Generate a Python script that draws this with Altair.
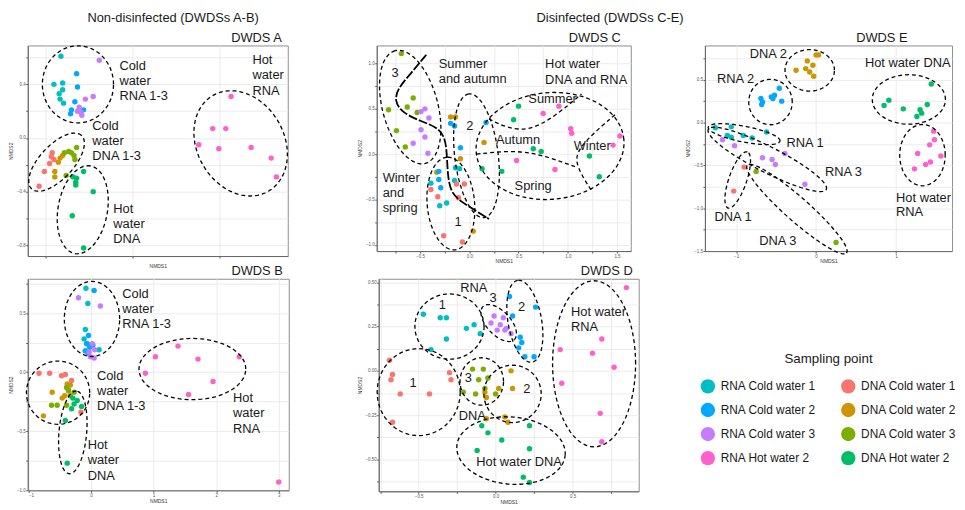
import altair as alt
import pandas as pd
import numpy as np

FONT = "Liberation Sans"

CATS = ["RNA Cold water 1", "RNA Cold water 2", "RNA Cold water 3", "RNA Hot water 2",
        "DNA Cold water 1", "DNA Cold water 2", "DNA Cold water 3", "DNA Hot water 2"]
COLORS = ["#00BFC4", "#00A9FF", "#C77CFF", "#FF61CC", "#F8766D", "#CD9600", "#7CAE00", "#00BE67"]
CODE = {"R1": CATS[0], "R2": CATS[1], "R3": CATS[2], "RH": CATS[3],
        "D1": CATS[4], "D2": CATS[5], "D3": CATS[6], "DH": CATS[7]}

# ---------------- DWDS A ----------------
A_grp = ["R1"] * 7 + ["R2"] * 6 + ["R3"] * 7 + ["RH"] * 8 + ["D1"] * 6 + ["D2"] * 5 + ["D3"] * 7 + ["DH"] * 8
A_x = [-0.32, -0.40, -0.30, -0.30, -0.34, -0.33, -0.29,
       -0.14, -0.13, -0.16, -0.20, -0.21, -0.06,
       0.12, 0.05, -0.04, -0.11, -0.13, -0.09, -0.08,
       1.63, 1.42, 1.57, 1.26, 1.49, 1.86, 2.09, 2.15,
       -0.57, -0.51, -0.45, -0.43, -0.42, -0.40,
       -0.39, -0.39, -0.35, -0.33, -0.30,
       -0.28, -0.23, -0.20, -0.17, -0.14, -0.16, -0.26,
       -0.18, -0.14, -0.15, -0.15, -0.06, 0.05, -0.19, -0.06]
A_y = [0.61, 0.40, 0.41, 0.36, 0.33, 0.29, 0.26,
       0.48, 0.38, 0.27, 0.21, 0.18, 0.21,
       0.58, 0.31, 0.29, 0.23, 0.20, 0.19, 0.17,
       0.31, 0.07, 0.07, -0.05, -0.08, -0.07, -0.15, -0.29,
       -0.36, -0.25, -0.19, -0.14, -0.11, -0.16,
       -0.25, -0.29, -0.18, -0.15, -0.13,
       -0.11, -0.10, -0.11, -0.13, -0.07, -0.16, -0.28,
       -0.29, -0.30, -0.33, -0.35, -0.25, -0.40, -0.58, -0.82]
A_ell = [(-0.125, 0.40, 36, 39, 0), (-0.37, -0.18, 37, 17, 47),
         (-0.07, -0.535, 45, 25, 80), (1.74, -0.04, 56, 44, -60)]
A_txt = ["Cold", "water", "RNA 1-3", "Cold", "water", "DNA 1-3", "Hot", "water", "DNA", "Hot", "water", "RNA"]
A_tx = [0.35, 0.35, 0.35, 0.04, 0.04, 0.04, 0.28, 0.28, 0.28, 1.875, 1.875, 1.875]
A_ty = [0.54, 0.425, 0.31, 0.086, -0.025, -0.135, -0.53, -0.645, -0.75, 0.58, 0.466, 0.35]

# ---------------- DWDS B ----------------
B_grp = ["R1"] * 7 + ["R2"] * 7 + ["R3"] * 7 + ["RH"] * 8 + ["D1"] * 6 + ["D2"] * 7 + ["D3"] * 7 + ["DH"] * 7
B_x = [-0.08, -0.05, -0.09, -0.11, -0.06, 0.13, -0.09,
       0.05, -0.04, -0.07, -0.02, 0.03, -0.09, -0.04,
       -0.20, 0.15, 0.02, 0.06, -0.03, -0.01, 0.05,
       0.87, 1.03, 1.39, 1.71, 2.37, 1.95, 1.56, 3.00,
       -0.83, -0.66, -0.47, -0.41, -0.31, -0.16,
       -0.62, -0.76, -0.46, -0.38, -0.33, -0.42, -0.36,
       -0.63, -0.54, -0.39, -0.36, -0.27, -0.39, -0.33,
       -0.29, -0.22, -0.27, -0.31, -0.15, -0.41, -0.38]
B_y = [0.71, 0.58, 0.36, 0.28, 0.24, 0.19, 0.18,
       0.69, 0.31, 0.24, 0.21, 0.23, 0.18, 0.16,
       0.63, 0.56, 0.24, 0.19, 0.17, 0.13, 0.12,
       -0.01, 0.13, 0.22, 0.11, 0.13, -0.08, -0.19, -0.93,
       -0.01, -0.01, -0.03, -0.02, -0.07, -0.34,
       -0.17, -0.37, -0.22, -0.10, -0.11, -0.20, -0.16,
       -0.28, -0.28, -0.13, -0.15, -0.17, -0.28, -0.20,
       -0.22, -0.24, -0.27, -0.31, -0.29, -0.41, -0.77]
B_ell = [(0.016, 0.45, 28, 38, 0), (-0.526, -0.174, 32, 32, 0),
         (-0.29, -0.51, 42, 14, 85), (1.62, 0.026, 54, 31, 0)]
B_txt = ["Cold", "water", "RNA 1-3", "Cold", "water", "DNA 1-3", "Hot", "water", "DNA", "Hot", "water", "RNA"]
B_tx = [0.50, 0.50, 0.50, 0.095, 0.095, 0.095, -0.053, -0.053, -0.053, 2.27, 2.27, 2.27]
B_ty = [0.66, 0.536, 0.405, -0.035, -0.16, -0.29, -0.62, -0.745, -0.876, -0.22, -0.347, -0.48]

# ---------------- DWDS C ----------------
C_grp = ["D3"] * 7 + ["R3"] * 7 + ["D2"] * 6 + ["R2"] * 7 + ["R1"] * 6 + ["D1"] * 7 + ["RH"] * 8 + ["DH"] * 8
C_x = [-0.69, -0.82, -0.74, -0.63, -0.57, -0.53, -0.65,
       -0.49, -0.45, -0.41, -0.49, -0.45, -0.57, -0.42,
       -0.19, -0.14, -0.09, 0.15, -0.33, 0.04,
       -0.19, -0.15, 0.17, -0.09, -0.31, -0.31, -0.29,
       -0.14, -0.10, -0.39, -0.15, -0.23, -0.30,
       -0.39, -0.32, -0.13, -0.05, -0.11, -0.26, -0.07,
       0.75, 0.91, 1.03, 1.04, 1.53, 1.46, 0.48, 0.87,
       0.50, 0.45, 0.65, 0.73, 1.22, 1.32, 0.13, 0.33]
C_y = [1.11, 0.49, 0.26, 0.52, 0.62, 0.46, 0.08,
       0.47, 0.50, 0.40, 0.27, 0.19, 0.12, 0.01,
       0.41, 0.41, -0.05, 0.13, -0.20, -0.85,
       0.34, 0.31, 0.35, 0.07, -0.19, -0.28, -0.37,
       -0.15, -0.16, -0.32, -0.29, -0.54, -0.57,
       -0.39, -0.47, -0.33, -0.33, -0.48, -0.90, -0.97,
       0.45, 0.53, 0.28, 0.23, 0.20, 0.10, -0.07, -0.17,
       0.53, 0.38, 0.06, 0.03, -0.02, -0.25, -0.16, -0.19]
C_ell = [(-0.60, 0.52, 59, 28, 105), (0.073, -0.018, 63, 22, 97),
         (-0.187, -0.545, 47, 24, 95), (0.82, 0.09, 75, 54, 5)]
# season divider lines (annotation strokes)
C_line_id = ["s"] * 14 + ["su"] * 5 + ["au"] * 4 + ["wi"] * 4
C_line_x = [-0.437, -0.593, -0.727, -0.76, -0.677, -0.493, -0.333, -0.25, -0.227, -0.22, -0.187, -0.093, 0.073, 0.20,
            0.20, 0.373, 0.607, 0.873, 1.14,
            0.073, 0.473, 0.773, 1.09,
            1.48, 1.073, 1.09, 1.24]
C_line_y = [1.098, 0.891, 0.727, 0.582, 0.455, 0.364, 0.302, 0.20, 0.018, -0.236, -0.418, -0.52, -0.629, -0.716,
            0.389, 0.291, 0.255, 0.418, 0.665,
            0.0, 0.047, -0.018, -0.145,
            0.436, 0.055, -0.145, -0.40]
C_txt = ["3", "Summer", "and autumn", "Hot water", "DNA and RNA", "Summer", "2", "Autumn", "Winter",
         "Spring", "Winter", "and", "spring", "1"]
C_tx = [-0.79, -0.31, -0.31, 0.77, 0.77, 0.60, -0.03, 0.27, 1.06, 0.46, -0.88, -0.88, -0.88, -0.15]
C_ty = [0.89, 1.00, 0.83, 0.99, 0.82, 0.61, 0.31, 0.16, 0.09, -0.35, -0.26, -0.43, -0.60, -0.75]

# ---------------- DWDS D ----------------
D_grp = ["R1"] * 8 + ["R3"] * 8 + ["R2"] * 8 + ["RH"] * 8 + ["D1"] * 8 + ["D3"] * 8 + ["D2"] * 8 + ["DH"] * 8
D_x = [-0.47, -0.36, -0.32, -0.32, -0.19, -0.14, -0.10, -0.42,
       -0.01, 0.05, -0.03, 0.03, 0.07, 0.01, 0.06, 0.10,
       0.09, 0.26, 0.11, 0.16, 0.17, 0.15, 0.19, 0.25,
       0.85, 0.42, 0.63, 0.69, 0.77, 0.43, 0.68, 0.69,
       -0.69, -0.67, -0.68, -0.62, -0.43, -0.30, -0.29, -0.67,
       -0.15, -0.08, -0.11, -0.05, -0.21, -0.13, 0.00, -0.07,
       0.10, 0.02, 0.11, -0.07, -0.06, -0.06, 0.06, 0.08,
       -0.09, -0.05, -0.12, 0.04, 0.22, 0.22, 0.18, 0.22]
D_y = [0.32, 0.30, 0.30, 0.18, 0.24, 0.26, 0.21, 0.12,
       0.31, 0.30, 0.27, 0.26, 0.24, 0.23, 0.23, 0.21,
       0.42, 0.36, 0.31, 0.19, 0.16, 0.13, 0.08, 0.08,
       0.47, 0.12, 0.10, 0.18, 0.02, -0.07, -0.24, -0.40,
       0.06, -0.02, -0.05, -0.13, -0.13, -0.01, -0.05, -0.29,
       0.01, 0.01, -0.05, -0.04, -0.12, -0.13, -0.13, -0.10,
       0.00, -0.10, -0.10, -0.12, -0.15, -0.27, -0.26, -0.29,
       -0.31, -0.35, -0.45, -0.39, -0.31, -0.44, -0.60, -0.63]
D_ell = [(-0.30, 0.25, 35, 33, 0), (0.02, 0.27, 23, 12, -47), (0.19, 0.28, 42, 17, 100),
         (0.64, 0.04, 42, 84, 0), (-0.50, -0.12, 42, 44, 0), (-0.09, -0.06, 22, 24, 0),
         (0.11, -0.13, 29, 29, 0), (0.10, -0.45, 55, 34, -5)]
D_txt = ["RNA", "1", "3", "2", "Hot water", "RNA", "1", "3", "2", "DNA", "Hot water DNA"]
D_tx = [-0.23, -0.37, -0.04, 0.145, 0.49, 0.49, -0.56, -0.20, 0.18, -0.24, -0.126]
D_ty = [0.47, 0.37, 0.41, 0.36, 0.33, 0.246, -0.066, -0.038, -0.10, -0.256, -0.516]

# ---------------- DWDS E ----------------
E_grp = ["D2"] * 8 + ["R2"] * 8 + ["DH"] * 8 + ["RH"] * 8 + ["R1"] * 7 + ["R3"] * 7 + ["D1"] * 2 + ["D3"] * 2
E_x = [-0.25, -0.11, 0.00, 0.03, -0.04, -0.13, -0.08, -0.03,
       -0.69, -0.67, -0.68, -0.56, -0.52, -0.46, -0.43, -0.54,
       1.44, 0.91, 0.85, 1.09, 1.39, 1.30, 1.32, 1.26,
       1.47, 1.48, 1.42, 1.27, 1.56, 1.43, 1.37, 1.23,
       -1.26, -1.06, -1.11, -1.06, -0.91, -0.80, -0.62,
       -1.17, -1.02, -0.67, -0.55, -0.51, -0.39, -0.14,
       -0.90, -1.03,
       -0.75, 0.25]
E_y = [0.61, 0.72, 0.79, 0.79, 0.67, 0.63, 0.59, 0.54,
       0.28, 0.24, 0.21, 0.30, 0.32, 0.40, 0.25, 0.28,
       0.45, 0.26, 0.20, 0.16, 0.21, 0.15, 0.11, 0.07,
       -0.10, -0.20, -0.26, -0.36, -0.39, -0.46, -0.49, -0.54,
       -0.06, -0.05, -0.15, -0.17, -0.15, -0.18, -0.11,
       -0.20, -0.27, -0.41, -0.43, -0.49, -0.36, -0.72,
       -0.52, -0.80,
       -0.57, -1.40]
E_ell = [(-0.08, 0.61, 25, 21, 0), (-0.57, 0.24, 22, 23, 0), (1.16, 0.27, 37, 25, 0),
         (1.33, -0.38, 23, 31, 0), (-0.90, -0.135, 37, 8, -11), (-0.61, -0.43, 67, 13, -27),
         (-0.98, -0.67, 30, 9, 71), (-0.24, -1.01, 67, 12, -41.5)]
E_txt = ["DNA 2", "RNA 2", "Hot water DNA", "RNA 1", "RNA 3", "Hot water", "RNA", "DNA 1", "DNA 3"]
E_tx = [-0.83, -1.24, 0.61, -0.37, 0.11, 1.0, 1.0, -1.27, -0.71]
E_ty = [0.80, 0.51, 0.70, -0.24, -0.58, -0.885, -1.05, -1.10, -1.385]


def ellipse_frame(ells, xdom, ydom, width, height):
    kx = width / (xdom[1] - xdom[0])
    ky = height / (ydom[1] - ydom[0])
    rows = []
    phi = np.linspace(0, 2 * np.pi, 73)
    for i, (cx, cy, a, b, ang) in enumerate(ells):
        t = np.deg2rad(ang)
        dx = a * np.cos(phi) * np.cos(t) - b * np.sin(phi) * np.sin(t)
        dy = a * np.cos(phi) * np.sin(t) + b * np.sin(phi) * np.cos(t)
        for k in range(len(phi)):
            rows.append({"id": i, "k": k, "x": cx + dx[k] / kx, "y": cy + dy[k] / ky})
    return pd.DataFrame(rows)


def axis(vals, majors, title, fmt, title_pad):
    majors_s = ",".join(repr(float(m)) for m in majors)
    return alt.Axis(values=vals, title=title, format=fmt,
                    labelExpr=f"indexof([{majors_s}], datum.value) >= 0 ? datum.label : ''",
                    labelFontSize=4.5, titleFontSize=5, titleFontWeight="normal",
                    labelColor="#555555", titleColor="#333333", tickColor="#555555",
                    tickSize=2, labelPadding=0.5, titlePadding=title_pad, domainColor="#666666",
                    gridColor="#EBEBEB", labelFont=FONT, titleFont=FONT)


def label_layer(x, y, text, size=13, align="center"):
    return alt.Chart(alt.Data(values=[{}])).mark_text(
        fontSize=size, font=FONT, color="#1a1a1a", align=align, baseline="middle").encode(
        x=alt.value(x), y=alt.value(y), text=alt.value(text))


LEGEND = alt.Legend(title="Sampling point", orient="none", legendX=680, legendY=310, columns=2,
                    symbolType="circle", symbolSize=210, labelFontSize=12, titleFontSize=13.5,
                    titleFontWeight="normal", titleAnchor="middle", labelFont=FONT, titleFont=FONT,
                    rowPadding=8.3, columnPadding=24, labelOffset=5, titlePadding=13,
                    labelColor="#1a1a1a", titleColor="#1a1a1a", padding=0)


def panel(title, grp, xs, ys, ells, txt, tx, ty, xdom, ydom, xvals, xmaj, yvals, ymaj,
          width, height, title_dx, xfmt, yfmt, extra=None, header=None):
    pts = pd.DataFrame({"cat": [CODE[g] for g in grp], "x": xs, "y": ys})
    X = alt.X("x:Q", scale=alt.Scale(domain=xdom, nice=False, zero=False),
              axis=axis(xvals, xmaj, "NMDS1", xfmt, 1))
    Y = alt.Y("y:Q", scale=alt.Scale(domain=ydom, nice=False, zero=False),
              axis=axis(yvals, ymaj, "NMDS2", yfmt, 3))
    layers = [
        alt.Chart(pts).mark_circle(size=30, opacity=1).encode(
            x=X, y=Y,
            color=alt.Color("cat:N", scale=alt.Scale(domain=CATS, range=COLORS), legend=LEGEND)),
        alt.Chart(ellipse_frame(ells, xdom, ydom, width, height)).mark_line(
            color="black", strokeDash=[4, 3], strokeWidth=1.3).encode(
            x=X, y=Y, detail="id:N", order="k:Q"),
    ]
    if extra is not None:
        layers.append(extra(X, Y))
    layers.append(
        alt.Chart(pd.DataFrame({"t": txt, "x": tx, "y": ty})).mark_text(
            align="left", baseline="middle", fontSize=13, font=FONT, color="#1a1a1a").encode(
            x=X, y=Y, text="t:N"))
    layers.append(label_layer(width + title_dx, -8, title, align="right"))
    if header is not None:
        hx, htxt = header
        layers.append(label_layer(hx, -28, htxt))
    return alt.layer(*layers).properties(width=width, height=height)


def c_lines(X, Y):
    df = pd.DataFrame({"id": C_line_id, "k": list(range(len(C_line_id))), "x": C_line_x, "y": C_line_y})
    base = alt.Chart(df)
    s = base.transform_filter("datum.id == 's'").mark_line(
        color="black", strokeDash=[9, 2], strokeWidth=1.8, interpolate="basis").encode(
        x=X, y=Y, order="k:Q")
    o = base.transform_filter("datum.id != 's'").mark_line(
        color="black", strokeDash=[4, 3], strokeWidth=1.3, interpolate="basis").encode(
        x=X, y=Y, detail="id:N", order="k:Q")
    return alt.layer(s, o)


pA = panel("DWDS A", A_grp, A_x, A_y, A_ell, A_txt, A_tx, A_ty,
           [-0.70, 2.28], [-0.88, 0.69], [-0.5, 0, 0.5, 1, 1.5, 2], [0, 1, 2],
           [-0.8, -0.6, -0.4, -0.2, 0, 0.2, 0.4, 0.6], [-0.8, -0.4, 0, 0.4],
           263, 213, -6, "d", ".1f", header=(147, "Non-disinfected (DWDSs A-B)"))
pB = panel("DWDS B", B_grp, B_x, B_y, B_ell, B_txt, B_tx, B_ty,
           [-1.01, 3.16], [-1.0, 0.79], [-1, -0.5, 0, 0.5, 1, 1.5, 2, 2.5, 3], [-1, 0, 1, 2, 3],
           [-1.0, -0.75, -0.5, -0.25, 0, 0.25, 0.5, 0.75], [-1.0, -0.5, 0, 0.5],
           264, 214, -6, "d", ".1f")
pC = panel("DWDS C", C_grp, C_x, C_y, C_ell, C_txt, C_tx, C_ty,
           [-0.94, 1.64], [-1.07, 1.20], [-0.75, -0.5, -0.25, 0, 0.25, 0.5, 0.75, 1, 1.25, 1.5],
           [-0.5, 0, 0.5, 1, 1.5],
           [-1.0, -0.75, -0.5, -0.25, 0, 0.25, 0.5, 0.75, 1.0], [-1.0, -0.5, 0, 0.5, 1.0],
           257, 208, -10, ".1f", ".1f", extra=c_lines, header=(236, "Disinfected (DWDSs C-E)"))
pD = panel("DWDS D", D_grp, D_x, D_y, D_ell, D_txt, D_tx, D_ty,
           [-0.76, 0.93], [-0.68, 0.52], [-0.75, -0.5, -0.25, 0, 0.25, 0.5, 0.75], [-0.5, 0, 0.5],
           [-0.625, -0.5, -0.375, -0.25, -0.125, 0, 0.125, 0.25, 0.375, 0.5],
           [-0.5, -0.25, 0, 0.25, 0.5],
           263, 215, -6, ".1f", ".2f")
pE = panel("DWDS E", E_grp, E_x, E_y, E_ell, E_txt, E_tx, E_ty,
           [-1.39, 1.70], [-1.50, 0.90], [-1, -0.5, 0, 0.5, 1, 1.5], [-1, 0, 1],
           [-1.5, -1.25, -1.0, -0.75, -0.5, -0.25, 0, 0.25, 0.5, 0.75], [-1.5, -1.0, -0.5, 0, 0.5],
           250, 208, -45, "d", ".1f")

# A-C gap is wide; C-E gap is tight because C's header text defines C's right bound
row1 = alt.hconcat(alt.hconcat(pA, pC, spacing=67), pE, spacing=1)
row2 = alt.hconcat(pB, pD, spacing=67)
chart = alt.vconcat(row1, row2, spacing=-6).properties(padding=0).configure_view(
    stroke="#8c8c8c", strokeWidth=1)

chart.save("out.html", embed_options={"renderer": "svg", "actions": False})
